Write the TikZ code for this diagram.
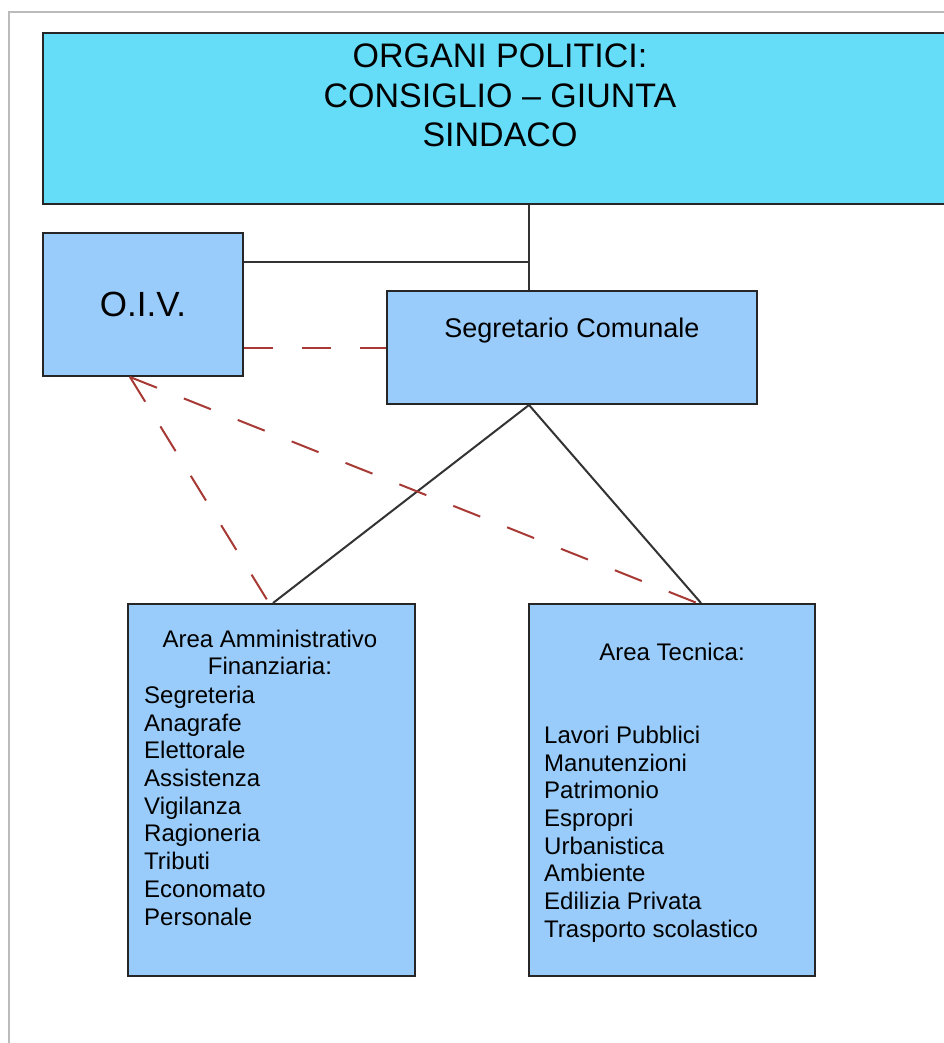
\documentclass[tikz,border=0pt]{standalone}
\usepackage{fontspec}
\setmainfont{Liberation Sans}
\definecolor{topcyan}{HTML}{66DDF8}
\definecolor{boxblue}{HTML}{99CCFA}
\definecolor{dashred}{HTML}{A83A36}
\definecolor{framegray}{HTML}{BBBBBB}
\definecolor{linegray}{HTML}{333333}
\begin{document}
\begin{tikzpicture}[x=1pt,y=-1pt,
  box/.style={draw=black!85, line width=2pt, inner sep=0pt, rectangle},
  txt/.style={inner sep=0pt, text=black},
  areafont/.style={font=\fontsize{24}{27.7}\selectfont},
  conn/.style={draw=linegray, line width=2pt},
  reldash/.style={draw=dashred, line width=2pt, dash pattern=on 29pt off 29pt}
]
\useasboundingbox (0,0) rectangle (944,1043);
\fill[white] (0,0) rectangle (944,1043);
\draw[framegray, line width=1.5pt] (9,1043) -- (9,12) -- (944,12);

% boxes
\node[box, fill=topcyan, minimum width=914pt, minimum height=171pt] (top) at (500,118.5) {};
\node[box, fill=boxblue, minimum width=200pt, minimum height=143pt, font=\fontsize{35}{40}\selectfont] (oiv) at (143,304.5) {O.I.V.};
\node[box, fill=boxblue, minimum width=370pt, minimum height=113pt] (seg) at (572,347.5) {};
\node[box, fill=boxblue, minimum width=287pt, minimum height=372pt] (amm) at (271.5,790) {};
\node[box, fill=boxblue, minimum width=286pt, minimum height=372pt] (tec) at (672,790) {};

% texts
\node[txt, font=\fontsize{34}{39.5}\selectfont, align=center, anchor=north] (toptext) at (500,44) {ORGANI POLITICI:\\CONSIGLIO – GIUNTA\\SINDACO};
\node[txt, font=\fontsize{27}{32}\selectfont, anchor=base] (segtext) at (572,337) {Segretario Comunale};
\node[txt, areafont, align=center, anchor=north] (ammtitle) at (270,629.5) {Area Amministrativo\\Finanziaria:};
\node[txt, areafont, align=left, anchor=north west] (ammlist) at (144,685.8) {Segreteria\\Anagrafe\\Elettorale\\Assistenza\\Vigilanza\\Ragioneria\\Tributi\\Economato\\Personale};
\node[txt, areafont, anchor=base] (tectitle) at (672,660.7) {Area Tecnica:};
\node[txt, areafont, align=left, anchor=north west] (teclist) at (544,725.8) {Lavori Pubblici\\Manutenzioni\\Patrimonio\\Espropri\\Urbanistica\\Ambiente\\Edilizia Privata\\Trasporto scolastico};

% helper coordinates
\coordinate (j) at (529,262);
\coordinate (d) at (300,348);
\coordinate (o1) at (130,0);
\coordinate (a1) at (273,0);
\coordinate (a2) at (269,0);
\coordinate (t1) at (701,0);
\coordinate (t2) at (697,0);

% solid connectors
\draw[conn] (top.south -| j) -- (seg.north -| j);
\draw[conn] (oiv.east |- j) -- (j);
\draw[conn] (seg.south -| j) -- (amm.north -| a1);
\draw[conn] (seg.south -| j) -- (tec.north -| t1);

% dashed connectors
\draw[reldash] (oiv.east |- d) -- (seg.west |- d);
\draw[reldash] (oiv.south -| o1) -- (amm.north -| a2);
\draw[reldash] (oiv.south -| o1) -- (tec.north -| t2);
\end{tikzpicture}
\end{document}
